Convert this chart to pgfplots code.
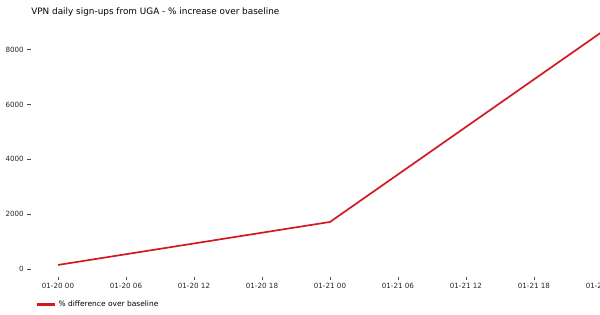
\documentclass[border=0pt]{standalone}
\usepackage{pgfplots}
\pgfplotsset{compat=1.18}
\usepackage{fontspec}
\setmainfont{DejaVu Sans}
\definecolor{linered}{RGB}{212,24,32}
\begin{document}
\begin{tikzpicture}
\begin{axis}[
  at={(0,0)}, anchor=south west,
  scale only axis,
  width=598.3bp, height=256.3bp,
  xmin=-2.4, xmax=50.4,
  ymin=-279, ymax=9075,
  axis line style={draw=none},
  xtick={0,6,12,18,24,30,36,42,48},
  xticklabels={01-20 00,01-20 06,01-20 12,01-20 18,01-21 00,01-21 06,01-21 12,01-21 18,01-22 00},
  ytick={0,2000,4000,6000,8000},
  scaled y ticks=false,
  yticklabel style={/pgf/number format/1000 sep={}},
  /pgf/number format/assume math mode=true,
  tick align=outside,
  major tick length=3.5bp,
  tick style={black!70, line width=0.6bp},
  xtick pos=bottom, ytick pos=left,
  ticklabel style={font=\fontsize{7.2}{8}\selectfont, text=black!85},
  xticklabel style={yshift=0.5bp},
  title={VPN daily sign-ups from UGA - \% increase over baseline},
  title style={font=\fontsize{8.9}{10}\selectfont, at={(axis description cs:0,1)}, anchor=base west, xshift=-3bp, yshift=-0.5bp},
  legend style={at={(axis description cs:0,0)}, anchor=west, xshift=6bp, yshift=-27.5bp, draw=none, fill=none, inner sep=0pt, font=\fontsize{7.5}{8}\selectfont},
  legend image code/.code={\fill[linered] (0bp,-0.75bp) rectangle (16bp,0.75bp); \path (18bp,0bp);},
  legend cell align=left,
  clip=false,
]
\addplot[linered, line width=1.7bp] coordinates {(0,146) (24,1715) (48,8650)};
\addlegendentry{\% difference over baseline}
\end{axis}
\pgfresetboundingbox
\useasboundingbox (-30.8bp,-38.4bp) rectangle (569.2bp,276.6bp);
\end{tikzpicture}
\end{document}
